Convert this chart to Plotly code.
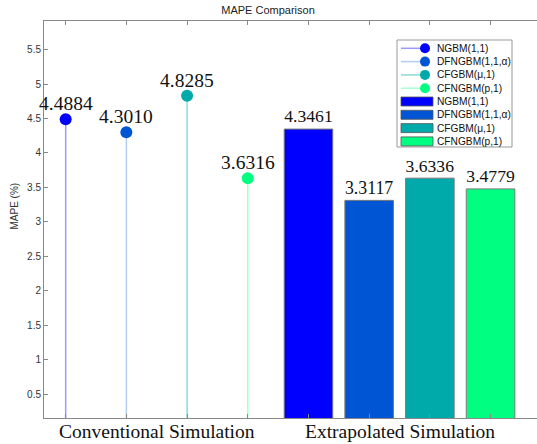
import plotly.graph_objects as go

# ---- data ----
models = ["NGBM(1,1)", "DFNGBM(1,1,α)", "CFGBM(μ,1)", "CFNGBM(p,1)"]
conventional = [4.4884, 4.3010, 4.8285, 3.6316]
extrapolated = [4.3461, 3.3117, 3.6336, 3.4779]
groups = ["Conventional Simulation", "Extrapolated Simulation"]
colors = ["#0000FF", "#0055D4", "#00AAAA", "#00FF80"]
bar_colors = ["#0000FF", "#0055D4", "#00AAAA", "#00FF80"]
stem_colors = ["rgba(0,0,255,0.4)", "rgba(0,85,212,0.3)", "rgba(0,170,170,0.45)", "rgba(0,255,128,0.35)"]
y_ticks = [0.5, 1, 1.5, 2, 2.5, 3, 3.5, 4, 4.5, 5, 5.5]

W, H = 537, 444
ML, MR, MT, MB = 44, 0, 21, 26
PW, PH = W - ML - MR, H - MT - MB

def px_x(px):
    return (px - ML) / PW

def px_y(py):
    return (H - MB - py) / PH

n = len(models)
stem_x = list(range(1, n + 1))
bar_x = list(range(n + 1, 2 * n + 1))

fig = go.Figure()
serif = "Liberation Serif, Times New Roman, serif"
sans = "Liberation Sans, Arial, sans-serif"
annotations = []

for i in range(n):
    fig.add_trace(go.Scatter(
        x=[stem_x[i], stem_x[i]], y=[0, conventional[i]], mode="lines",
        line=dict(color=stem_colors[i], width=1.5), showlegend=False, hoverinfo="skip"))
    fig.add_trace(go.Scatter(
        x=[stem_x[i]], y=[conventional[i]], mode="markers",
        marker=dict(color=colors[i], size=12),
        cliponaxis=False, showlegend=False, name=models[i]))
    annotations.append(dict(x=stem_x[i], y=conventional[i], xref="x", yref="y",
                            text="%.4f" % conventional[i], showarrow=False,
                            xanchor="center", yanchor="bottom", yshift=3,
                            font=dict(family=serif, size=19.5, color="#111")))

for i in range(n):
    fig.add_trace(go.Bar(
        x=[bar_x[i]], y=[extrapolated[i]], width=0.8,
        marker=dict(color=bar_colors[i], line=dict(color="#7a7a7a", width=1)),
        text=["%.4f" % extrapolated[i]], textposition="outside",
        textfont=dict(family=serif, size=19.5, color="#111"),
        cliponaxis=False, showlegend=False, name=models[i]))

# group labels under the axis
group_pos = [(stem_x[0] + stem_x[-1]) / 2, (bar_x[0] + bar_x[-1]) / 2]
for g, xp in zip(groups, group_pos):
    annotations.append(dict(x=xp, y=0, xref="x", yref="paper", text=g, showarrow=False,
                            xanchor="center", yanchor="top", yshift=-1,
                            font=dict(family=serif, size=19.5, color="#111")))
annotations.append(dict(x=0, y=0.5, xref="paper", yref="paper", text="MAPE (%)", showarrow=False,
                        textangle=-90, xanchor="center", yanchor="middle", xshift=-30, yshift=13,
                        font=dict(family=sans, size=10, color="#333")))

# custom legend (MATLAB-like)
shapes = []
lx0, lx1, ly0, ly1 = 397, 512, 40, 147
shapes.append(dict(type="rect", xref="paper", yref="paper",
                   x0=px_x(lx0), x1=px_x(lx1), y0=px_y(ly1), y1=px_y(ly0),
                   line=dict(color="#999999", width=1), fillcolor="white", layer="above"))
row0, step = 48.3, 13.3
for k in range(2 * n):
    i = k % n
    cy = row0 + k * step
    if k < n:
        shapes.append(dict(type="line", xref="paper", yref="paper",
                           x0=px_x(401), x1=px_x(425), y0=px_y(cy), y1=px_y(cy),
                           line=dict(color=stem_colors[i], width=1.5), layer="above"))
        r = 5
        shapes.append(dict(type="circle", xref="paper", yref="paper",
                           x0=px_x(425 - r), x1=px_x(425 + r), y0=px_y(cy + r), y1=px_y(cy - r),
                           line=dict(color=colors[i], width=0), fillcolor=colors[i], layer="above"))
    else:
        shapes.append(dict(type="rect", xref="paper", yref="paper",
                           x0=px_x(401), x1=px_x(433), y0=px_y(cy + 4.5), y1=px_y(cy - 4.5),
                           line=dict(color="#555555", width=0.8), fillcolor=bar_colors[i], layer="above"))
    annotations.append(dict(x=px_x(434.5), y=px_y(cy), xref="paper", yref="paper",
                            text=models[i], showarrow=False, xanchor="left", yanchor="middle",
                            font=dict(family=sans, size=10.2, color="#111")))

fig.update_layout(
    width=W, height=H,
    margin=dict(l=ML, r=MR, t=MT, b=MB, autoexpand=False),
    paper_bgcolor="white", plot_bgcolor="white",
    showlegend=False,
    title=dict(text="MAPE Comparison", x=268 / W, xanchor="center", y=1 - 10 / H, yanchor="middle",
               xref="container", yref="container",
               font=dict(family=sans, size=11, color="#222")),
    xaxis=dict(range=[0.643, 0.643 + PW / 60.7], tickvals=stem_x + bar_x, ticktext=[""] * (2 * n),
               ticks="inside", ticklen=4, tickcolor="#888", showline=True, linecolor="#888",
               linewidth=1, mirror="ticks", showgrid=False, zeroline=False),
    yaxis=dict(range=[0.154, 5.914], tickvals=y_ticks, ticktext=[("%g" % v) for v in y_ticks],
               ticks="inside", ticklen=4, tickcolor="#888", showline=True, linecolor="#888",
               linewidth=1, showgrid=False, zeroline=False,
               tickfont=dict(family=sans, size=10, color="#333")),
    shapes=shapes, annotations=annotations,
    bargap=0.2,
)

fig.write_html("out.html", config={"displayModeBar": False},
               post_script="document.body.style.margin='0';document.body.style.overflow='hidden';")
